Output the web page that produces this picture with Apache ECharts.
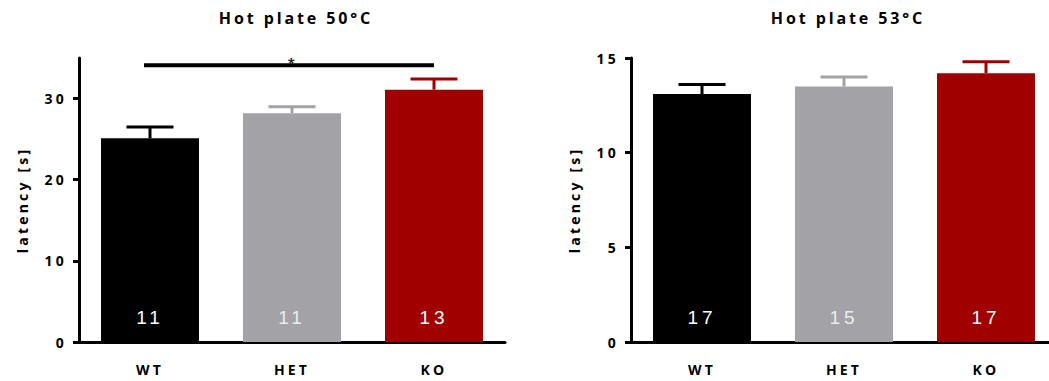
<!DOCTYPE html>
<html>
<head>
<meta charset="utf-8">
<script src="https://cdn.jsdelivr.net/npm/echarts@6/dist/echarts.min.js"></script>
<style>
  html, body { margin: 0; padding: 0; background: #fff; }
  #main { width: 1049px; height: 381px; }
  /* the original uses wide letter spacing on every text */
  #main svg text { letter-spacing: 3.2px; }
  #main svg text[style*="16px"] { letter-spacing: 2.9px; }
  #main svg text[style*="19px"] { letter-spacing: 4px; }
</style>
</head>
<body>
<div id="main"></div>
<script>
var categories = ['WT', 'HET', 'KO'];
var barColors = ['#000000', '#a3a2a7', '#a00000'];
var countColors = ['#ffffff', '#ececec', '#ffffff'];

// Hot plate 50°C
var mean50 = [25.1, 28.2, 31.1];
var sem50 = [1.4, 0.8, 1.3];
var n50 = [11, 11, 13];
var ticks50 = [0, 10, 20, 30];

// Hot plate 53°C
var mean53 = [13.1, 13.5, 14.2];
var sem53 = [0.5, 0.5, 0.6];
var n53 = [17, 15, 17];
var ticks53 = [0, 5, 10, 15];

// significance bracket WT vs KO
var sigFrom = 0, sigTo = 2, sigLevel = 34.1, sigText = '*';

var axisFont = '"Open Sans", Lato, sans-serif';

function barData(means, counts) {
    return means.map(function (v, i) {
        return {
            value: v,
            itemStyle: { color: barColors[i] },
            label: { color: countColors[i], formatter: String(counts[i]) }
        };
    });
}

function errData(means, sems) {
    return means.map(function (v, i) { return [i, v, sems[i]]; });
}

function renderErr(params, api) {
    var i = api.value(0);
    var top = api.coord([i, api.value(1) + api.value(2)]);
    var base = api.coord([i, api.value(1)]);
    var col = barColors[i];
    return {
        type: 'group',
        children: [
            { type: 'line', shape: { x1: top[0], y1: base[1], x2: top[0], y2: top[1] },
              style: { stroke: col, lineWidth: 3 } },
            { type: 'line', shape: { x1: top[0] - 23.5, y1: top[1], x2: top[0] + 23.5, y2: top[1] },
              style: { stroke: col, lineWidth: 3 } }
        ]
    };
}

function renderSig(params, api) {
    var a = api.coord([sigFrom, sigLevel]);
    var b = api.coord([sigTo, sigLevel]);
    return {
        type: 'group',
        children: [
            { type: 'line', shape: { x1: a[0] - 6, y1: a[1], x2: b[0], y2: b[1] },
              style: { stroke: '#000', lineWidth: 4 } },
            { type: 'text', x: (a[0] + b[0]) / 2 + 1, y: a[1] + 4,
              style: { text: sigText, fill: '#222', font: 'bold 13px ' + axisFont,
                       align: 'center', verticalAlign: 'bottom' } }
        ]
    };
}

function xAxisOpt(gridIndex) {
    return {
        type: 'category',
        gridIndex: gridIndex,
        data: categories,
        axisLine: { lineStyle: { color: '#000', width: 3 } },
        axisTick: { alignWithLabel: true, length: 7, lineStyle: { color: '#000', width: 3 } },
        axisLabel: { color: '#000', fontWeight: 'bold', fontSize: 14, fontFamily: axisFont, margin: 20 }
    };
}

function yAxisOpt(gridIndex, max, interval, ticks) {
    return {
        type: 'value',
        gridIndex: gridIndex,
        min: 0,
        max: max,
        interval: interval,
        name: 'latency [s]',
        nameLocation: 'middle',
        nameGap: 50,
        nameTextStyle: { color: '#000', fontWeight: 'bold', fontSize: 14, fontFamily: axisFont },
        splitLine: { show: false },
        axisLine: { show: true, lineStyle: { color: '#000', width: 3 } },
        axisTick: { show: true, length: 6, customValues: ticks, lineStyle: { color: '#000', width: 3 } },
        axisLabel: { color: '#000', fontWeight: 'bold', fontSize: 14, fontFamily: axisFont,
                     margin: 12, customValues: ticks }
    };
}

function barSeries(idx, means, counts) {
    return {
        type: 'bar',
        xAxisIndex: idx,
        yAxisIndex: idx,
        barWidth: '69%',
        data: barData(means, counts),
        label: {
            show: true,
            position: 'insideBottom',
            distance: 15,
            fontSize: 19,
            fontFamily: '"Liberation Sans", Arial, sans-serif'
        },
        z: 2
    };
}

var myChart = echarts.init(document.getElementById('main'), null, { renderer: 'svg' });

var option = {
    animation: false,
    title: [
        { text: 'Hot plate 50°C', left: 291, top: 5, textAlign: 'center',
          textStyle: { color: '#000', fontWeight: 'bold', fontSize: 16, fontFamily: axisFont } },
        { text: 'Hot plate 53°C', left: 843, top: 5, textAlign: 'center',
          textStyle: { color: '#000', fontWeight: 'bold', fontSize: 16, fontFamily: axisFont } }
    ],
    grid: [
        { left: 79, top: 58, width: 426, height: 284, outerBoundsMode: 'none' },
        { left: 631, top: 58, width: 426, height: 284, outerBoundsMode: 'none' }
    ],
    xAxis: [xAxisOpt(0), xAxisOpt(1)],
    yAxis: [yAxisOpt(0, 35, 10, ticks50), yAxisOpt(1, 15, 5, ticks53)],
    series: [
        barSeries(0, mean50, n50),
        barSeries(1, mean53, n53),
        { type: 'custom', xAxisIndex: 0, yAxisIndex: 0, renderItem: renderErr,
          data: errData(mean50, sem50), z: 3 },
        { type: 'custom', xAxisIndex: 1, yAxisIndex: 1, renderItem: renderErr,
          data: errData(mean53, sem53), z: 3 },
        { type: 'custom', xAxisIndex: 0, yAxisIndex: 0, renderItem: renderSig,
          data: [[sigFrom, sigLevel]], z: 4 }
    ]
};

myChart.setOption(option);
</script>
</body>
</html>
